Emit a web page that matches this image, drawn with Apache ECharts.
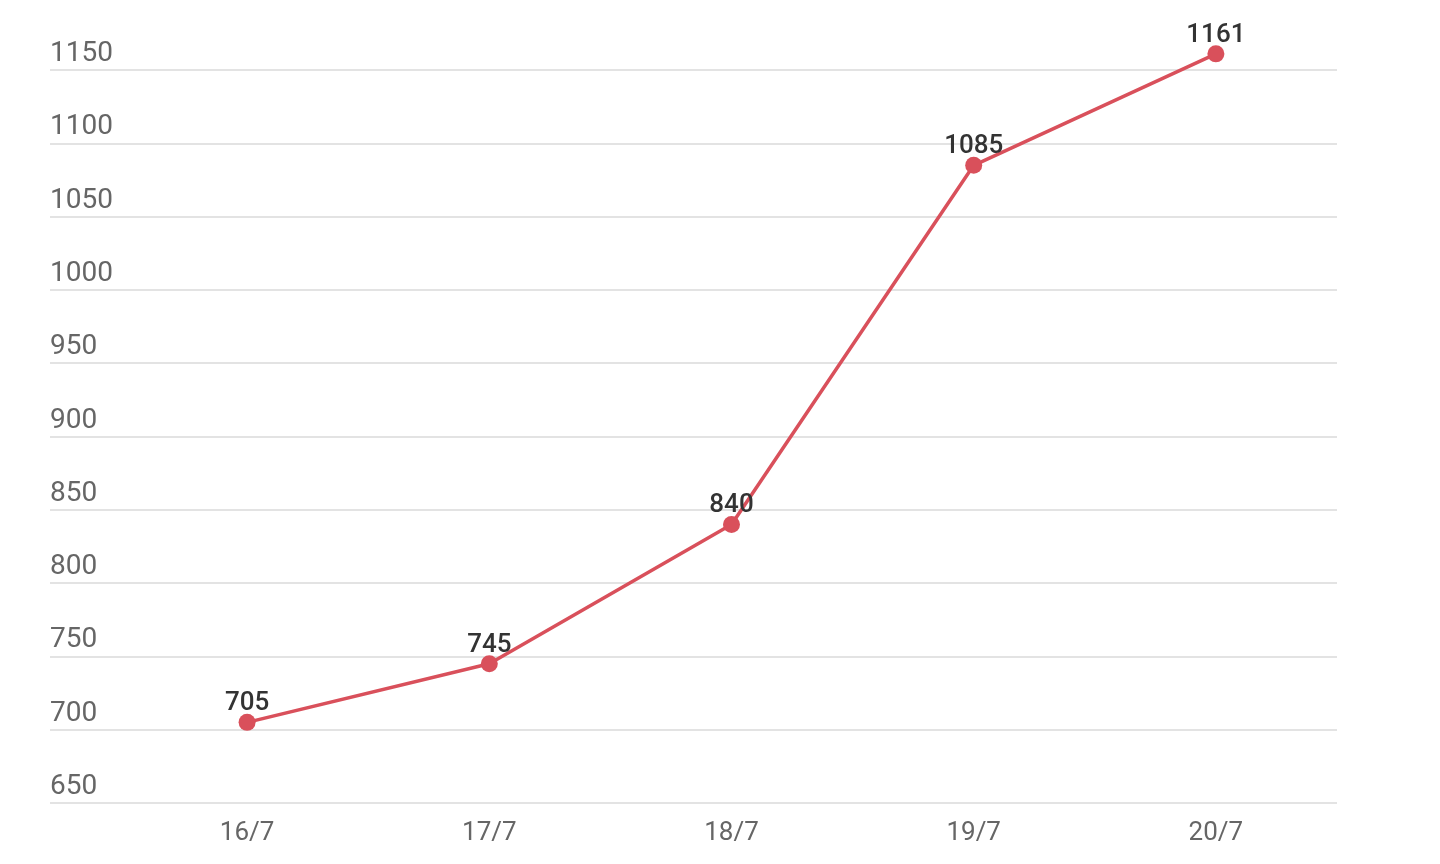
<!DOCTYPE html>
<html>
<head>
<meta charset="utf-8">
<script src="https://cdn.jsdelivr.net/npm/echarts@6/dist/echarts.min.js"></script>
<style>html,body{margin:0;padding:0;background:#fff;}#c{width:1440px;height:864px;}</style>
</head>
<body>
<div id="c"></div>
<script>
const categories = ['16/7', '17/7', '18/7', '19/7', '20/7'];
const values = [705, 745, 840, 1085, 1161];
const yMin = 650, yMax = 1150, yStep = 50;

const chart = echarts.init(document.getElementById('c'), null, {renderer: 'canvas'});
const FONT = 'Roboto, "Noto Sans", sans-serif';
chart.setOption({
  animation: false,
  backgroundColor: '#fff',
  grid: [
    {left: 50, right: 103, top: 70, bottom: 61},
    {left: 126, right: 103, top: 70, bottom: 61}
  ],
  xAxis: [
    {gridIndex: 0, type: 'category', data: categories, show: false},
    {gridIndex: 1, type: 'category', data: categories, boundaryGap: true,
     axisLine: {show: false}, axisTick: {show: false},
     axisLabel: {color: '#666', fontSize: 26, fontFamily: FONT, margin: 17}}
  ],
  yAxis: [
    {gridIndex: 0, type: 'value', min: yMin, max: yMax, interval: yStep,
     axisLine: {show: false}, axisTick: {show: false},
     splitLine: {lineStyle: {color: '#e3e3e3', width: 2}},
     axisLabel: {inside: true, margin: 0, align: 'left', verticalAlign: 'bottom', padding: [0, 0, 2, 0],
                 color: '#666', fontSize: 28, fontFamily: FONT,
                 formatter: v => String(v)}},
    {gridIndex: 1, type: 'value', min: yMin, max: yMax, interval: yStep, show: false,
     splitLine: {show: false}}
  ],
  series: [{
    type: 'line', xAxisIndex: 1, yAxisIndex: 1, data: values, clip: false,
    symbol: 'circle', symbolSize: 17,
    itemStyle: {color: '#d9505b'},
    lineStyle: {color: '#d9505b', width: 3.5},
    label: {show: true, position: 'top', distance: -3, color: '#333', fontSize: 26,
            fontWeight: 500, fontFamily: FONT}
  }]
});
</script>
</body>
</html>
